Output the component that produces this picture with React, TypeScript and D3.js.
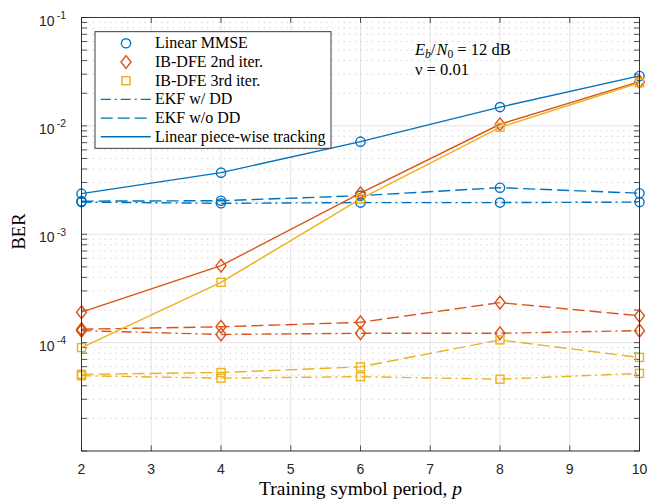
import React from "react";
import * as d3 from "d3";

const periods = [2, 4, 6, 8, 10];
const xTicks = [2, 3, 4, 5, 6, 7, 8, 9, 10];
const yMajor = [1e-5, 1e-4, 1e-3, 1e-2, 1e-1];
const yTickLabels = ["-1", "-2", "-3", "-4"];

// Linear MMSE (blue)
const mmseLinear = [2.37e-3, 3.7e-3, 7.15e-3, 1.49e-2, 2.89e-2];
const mmseEkfDD = [1.98e-3, 1.93e-3, 1.96e-3, 1.96e-3, 1.98e-3];
const mmseEkfNoDD = [2.02e-3, 2.04e-3, 2.27e-3, 2.69e-3, 2.39e-3];
// IB-DFE 2nd iter (orange)
const ib2Linear = [1.91e-4, 5.13e-4, 2.39e-3, 1.035e-2, 2.56e-2];
const ib2EkfDD = [1.29e-4, 1.19e-4, 1.22e-4, 1.22e-4, 1.29e-4];
const ib2EkfNoDD = [1.33e-4, 1.4e-4, 1.54e-4, 2.34e-4, 1.77e-4];
// IB-DFE 3rd iter (yellow)
const ib3Linear = [9.0e-5, 3.6e-4, 2.12e-3, 9.7e-3, 2.5e-2];
const ib3EkfDD = [4.95e-5, 4.7e-5, 4.85e-5, 4.6e-5, 5.2e-5];
const ib3EkfNoDD = [5.1e-5, 5.3e-5, 5.97e-5, 1.06e-4, 7.3e-5];

const BLUE = "#0072BD";
const ORANGE = "#D95319";
const YELLOW = "#EDB120";
const AX = "#262626";

const DASH = "12 5";
const DASHDOT = "10 4 2 4";

type Marker = "o" | "d" | "s";
const series: { values: number[]; color: string; dash: string | null; marker: Marker }[] = [
  { values: mmseEkfDD, color: BLUE, dash: DASHDOT, marker: "o" },
  { values: mmseEkfNoDD, color: BLUE, dash: DASH, marker: "o" },
  { values: mmseLinear, color: BLUE, dash: null, marker: "o" },
  { values: ib2EkfDD, color: ORANGE, dash: DASHDOT, marker: "d" },
  { values: ib2EkfNoDD, color: ORANGE, dash: DASH, marker: "d" },
  { values: ib2Linear, color: ORANGE, dash: null, marker: "d" },
  { values: ib3EkfDD, color: YELLOW, dash: DASHDOT, marker: "s" },
  { values: ib3EkfNoDD, color: YELLOW, dash: DASH, marker: "s" },
  { values: ib3Linear, color: YELLOW, dash: null, marker: "s" },
];

const legendItems: { label: string; color: string; marker: Marker | null; dash: string | null | undefined }[] = [
  { label: "Linear MMSE", color: BLUE, marker: "o", dash: undefined },
  { label: "IB-DFE 2nd iter.", color: ORANGE, marker: "d", dash: undefined },
  { label: "IB-DFE 3rd iter.", color: YELLOW, marker: "s", dash: undefined },
  { label: "EKF w/ DD", color: BLUE, marker: null, dash: DASHDOT },
  { label: "EKF w/o DD", color: BLUE, marker: null, dash: DASH },
  { label: "Linear piece-wise tracking", color: BLUE, marker: null, dash: null },
];

const L = 81.5, R = 639.5, T = 17.5, B = 451;
const SERIF = "'Liberation Serif', 'Times New Roman', serif";
const SANS = "'Liberation Sans', Arial, Helvetica, sans-serif";

function MarkerShape({ m, x, y, color }: { m: Marker; x: number; y: number; color: string }) {
  const common = { fill: "none", stroke: color, strokeWidth: 1.4 };
  if (m === "o") return <circle cx={x} cy={y} r={4.6} {...common} />;
  if (m === "d")
    return <path d={`M${x},${y - 6.4}L${x + 5},${y}L${x},${y + 6.4}L${x - 5},${y}Z`} {...common} />;
  return <rect x={x - 4} y={y - 4} width={8} height={8} {...common} />;
}

export default function App() {
  const x = d3.scaleLinear().domain([2, 10]).range([L, R]);
  const y = d3.scaleLog().domain([1e-5, 1e-1]).range([B, T]);
  const line = d3
    .line<number>()
    .x((_, i) => x(periods[i]))
    .y((v) => y(v));

  const minor: number[] = [];
  for (let e = -5; e < -1; e++) for (let k = 2; k <= 9; k++) minor.push(k * Math.pow(10, e));

  const tickLen = 5.5;
  const lgX = 95, lgY = 31.7, lgW = 236, lgH = 116.6, rowH = 18.7;

  return (
    <svg width={660} height={502} style={{ position: "absolute", left: 0, top: 0, background: "#fff" }}>
      <rect x={0} y={0} width={660} height={502} fill="#fff" />
      {/* minor grid */}
      {minor.map((v) => (
        <line key={"mg" + v} x1={L} x2={R} y1={y(v)} y2={y(v)} stroke="#b8b8b8" strokeWidth={0.7} strokeDasharray="1.2 4.5" />
      ))}
      {/* major grid */}
      {xTicks.map((t) => (
        <line key={"gx" + t} x1={x(t)} x2={x(t)} y1={T} y2={B} stroke="#e3e3e3" strokeWidth={1} />
      ))}
      {yMajor.map((v) => (
        <line key={"gy" + v} x1={L} x2={R} y1={y(v)} y2={y(v)} stroke="#e3e3e3" strokeWidth={1} />
      ))}
      {/* ticks */}
      {xTicks.map((t) => (
        <g key={"tx" + t}>
          <line x1={x(t)} x2={x(t)} y1={B} y2={B - tickLen} stroke={AX} strokeWidth={0.8} />
          <line x1={x(t)} x2={x(t)} y1={T} y2={T + tickLen} stroke={AX} strokeWidth={0.8} />
          <text x={x(t)} y={474} textAnchor="middle" fontFamily={SANS} fontSize={14} fill={AX}>
            {t}
          </text>
        </g>
      ))}
      {[...yMajor, ...minor].map((v) => (
        <g key={"ty" + v}>
          <line x1={L} x2={L + tickLen} y1={y(v)} y2={y(v)} stroke={AX} strokeWidth={0.8} />
          <line x1={R} x2={R - tickLen} y1={y(v)} y2={y(v)} stroke={AX} strokeWidth={0.8} />
        </g>
      ))}
      {yMajor.slice(1).reverse().map((v, i) => (
        <text key={"yl" + v} x={66} y={y(v) + 8} textAnchor="end" fontFamily={SANS} fontSize={14} fill={AX}>
          10
          <tspan dx={2} dy={-6.5} fontSize={10.5}>
            {yTickLabels[i]}
          </tspan>
        </text>
      ))}
      {/* data */}
      {series.map((s, i) => (
        <path
          key={"s" + i}
          d={line(s.values) || ""}
          fill="none"
          stroke={s.color}
          strokeWidth={1.4}
          strokeDasharray={s.dash || undefined}
        />
      ))}
      {series.map((s, i) =>
        s.values.map((v, j) => <MarkerShape key={"m" + i + "-" + j} m={s.marker} x={x(periods[j])} y={y(v)} color={s.color} />)
      )}
      {/* axes box */}
      <rect x={L} y={T} width={R - L} height={B - T} fill="none" stroke={AX} strokeWidth={0.9} />
      {/* annotation */}
      <text x={415} y={55} fontFamily={SERIF} fontSize={16.5} fill="#000">
        <tspan fontStyle="italic">E</tspan>
        <tspan fontStyle="italic" fontSize={11.5} dy={3}>b</tspan>
        <tspan dy={-3}>/</tspan>
        <tspan fontStyle="italic" dx={1}>N</tspan>
        <tspan fontSize={11.5} dy={3}>0</tspan>
        <tspan dy={-3}> = 12 dB</tspan>
      </text>
      <text x={415} y={75} fontFamily={SERIF} fontSize={16.5} fill="#000">
        <tspan>ν</tspan>
        <tspan> = 0.01</tspan>
      </text>
      {/* legend */}
      <rect x={lgX} y={lgY} width={lgW} height={lgH} fill="#fff" stroke={AX} strokeWidth={0.9} />
      {legendItems.map((it, i) => {
        const cy = lgY + 11.6 + i * rowH;
        return (
          <g key={"lg" + i}>
            {it.marker ? (
              <MarkerShape m={it.marker} x={126} y={cy} color={it.color} />
            ) : (
              <line x1={100.7} x2={150.7} y1={cy} y2={cy} stroke={it.color} strokeWidth={1.4} strokeDasharray={it.dash || undefined} />
            )}
            <text x={155} y={cy + 5} fontFamily={SERIF} fontSize={16} fill="#000">
              {it.label}
            </text>
          </g>
        );
      })}
      {/* axis labels */}
      <text x={360.5} y={495} textAnchor="middle" fontFamily={SERIF} fontSize={19.5} fill="#000">
        Training symbol period, <tspan fontStyle="italic">p</tspan>
      </text>
      <text transform="translate(25,231.5) rotate(-90)" textAnchor="middle" fontFamily={SERIF} fontSize={18.5} fill="#000">
        BER
      </text>
    </svg>
  );
}
